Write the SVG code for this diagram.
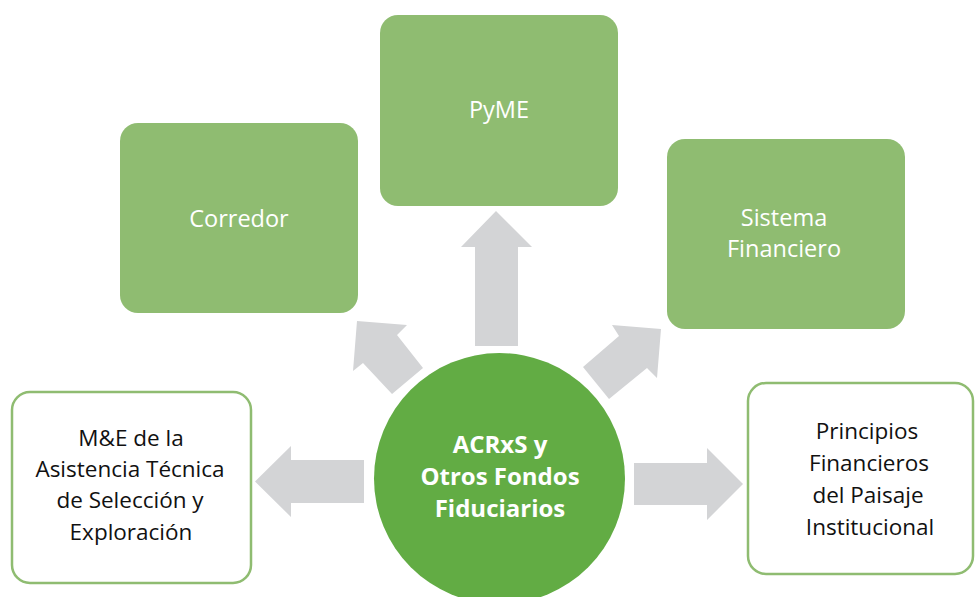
<svg xmlns="http://www.w3.org/2000/svg" width="975" height="597" viewBox="0 0 975 597">
<style>
.g{fill:#8fbc71}
.w{fill:#ffffff;stroke:#8fbc71;stroke-width:2.5}
.arr{fill:#d3d4d6}
.tw{font-family:"Open Sans","Liberation Sans",sans-serif;font-size:23.5px;fill:#ffffff;text-anchor:middle}
.tk{font-family:"Open Sans","Liberation Sans",sans-serif;font-size:22.5px;fill:#111111;text-anchor:middle}
.tc{font-family:"Open Sans","Liberation Sans",sans-serif;font-size:24px;font-weight:bold;fill:#ffffff;text-anchor:middle}
</style>
<rect width="975" height="597" fill="#ffffff"/>
<g id="connectors">
<polygon class="arr" points="496,211 532,247 518,247 518,346 475,346 475,247 461,247"/>
<polygon class="arr" points="255,481.5 291,446 291,460 364,460 364,503 291,503 291,517"/>
<polygon class="arr" points="743,484 707,448 707,463 634,463 634,505 707,505 707,520"/>
<polygon class="arr" points="357,321 407,325 397,335 423,368 392,394 363,363 353,371"/>
<polygon class="arr" points="661,329 612,325 619,336 583,367 609,399 647,368 657,378"/>
</g>
<g id="node-corredor">
<rect class="g" x="120" y="123" width="238" height="190" rx="18"/>
<text class="tw" x="239" y="227">Corredor</text>
</g>
<g id="node-pyme">
<rect class="g" x="380" y="15" width="238" height="191" rx="18"/>
<text class="tw" x="499" y="118">PyME</text>
</g>
<g id="node-sistema">
<rect class="g" x="667" y="139" width="238" height="190" rx="18"/>
<text class="tw" x="784" y="226">Sistema</text>
<text class="tw" x="784" y="257">Financiero</text>
</g>
<g id="node-me">
<rect class="w" x="12" y="392" width="239" height="191" rx="18"/>
<text class="tk" x="131" y="446">M&amp;E de la</text>
<text class="tk" x="130" y="477">Asistencia Técnica</text>
<text class="tk" x="130" y="508">de Selección y</text>
<text class="tk" x="131" y="540">Exploración</text>
</g>
<g id="node-principios">
<rect class="w" x="748" y="383" width="225" height="191" rx="18"/>
<text class="tk" x="867" y="439">Principios</text>
<text class="tk" x="869" y="471">Financieros</text>
<text class="tk" x="868" y="503">del Paisaje</text>
<text class="tk" x="870" y="535">Institucional</text>
</g>
<g id="node-center">
<circle cx="499.5" cy="478.5" r="125.5" fill="#62ac44"/>
<text class="tc" x="500" y="453">ACRxS y</text>
<text class="tc" x="500" y="485">Otros Fondos</text>
<text class="tc" x="500" y="517">Fiduciarios</text>
</g>
</svg>
